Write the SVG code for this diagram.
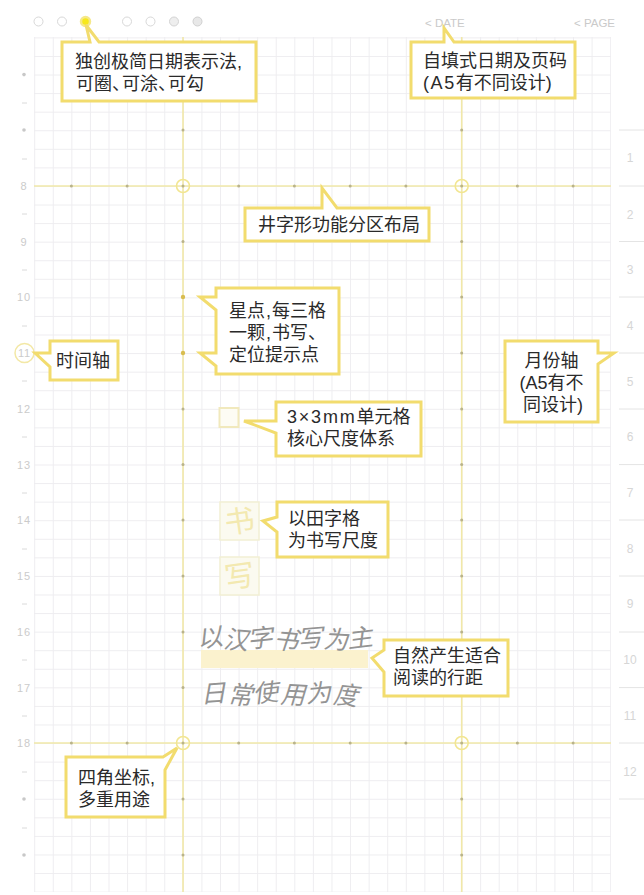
<svg xmlns="http://www.w3.org/2000/svg" width="644" height="895" viewBox="0 0 644 895">
<defs>
<style>
text{font-family:"Liberation Sans","Noto Sans CJK SC",sans-serif}
.g{stroke:#eeedf0;stroke-width:1;fill:none}
.ax{stroke:#f1e8a8;stroke-width:1.6;fill:none}
.co{fill:#fff;stroke:#f2dc6e;stroke-width:3;stroke-linejoin:miter}
.t{font-size:18px;fill:#2a2a2a}
.n{font-size:11px;fill:#cbcbcb;text-anchor:middle;letter-spacing:.8px}
.m{font-size:12px;fill:#d6d6d6;text-anchor:middle}
.d{fill:#b9b38a}
.s{fill:#c8c8c8}
.o{fill:none;stroke:#d8d8d8;stroke-width:1}
.h{font-size:25px;fill:#949494}
</style>
<pattern id="gridV" x="34.2" y="0" width="18.58" height="895" patternUnits="userSpaceOnUse"><line x1="0.5" y1="0" x2="0.5" y2="895" class="g"/></pattern>
<pattern id="gridH" x="0" y="37.4" width="644" height="18.57" patternUnits="userSpaceOnUse"><line x1="0" y1="0.5" x2="644" y2="0.5" class="g"/></pattern>
</defs>
<rect width="644" height="895" fill="#fff"/>
<g id="grid">
<rect x="34" y="37" width="577" height="855" fill="url(#gridV)"/>
<rect x="34" y="37" width="577" height="855" fill="url(#gridH)"/>
</g>
<g id="axes">
<line x1="34" y1="186" x2="611" y2="186" class="ax"/>
<line x1="34" y1="743" x2="611" y2="743" class="ax"/>
<line x1="183" y1="37" x2="183" y2="892" class="ax"/>
<line x1="461.7" y1="37" x2="461.7" y2="892" class="ax"/>
<g class="d">
<circle cx="71.4" cy="186" r="1.5"/><circle cx="127.1" cy="186" r="1.5"/><circle cx="183" cy="186" r="1.5"/><circle cx="238.7" cy="186" r="1.5"/><circle cx="294.4" cy="186" r="1.5"/><circle cx="350.2" cy="186" r="1.5"/><circle cx="405.9" cy="186" r="1.5"/><circle cx="461.7" cy="186" r="1.5"/><circle cx="517.4" cy="186" r="1.5"/><circle cx="573.1" cy="186" r="1.5"/>
<circle cx="71.4" cy="743" r="1.5"/><circle cx="127.1" cy="743" r="1.5"/><circle cx="183" cy="743" r="1.5"/><circle cx="238.7" cy="743" r="1.5"/><circle cx="294.4" cy="743" r="1.5"/><circle cx="350.2" cy="743" r="1.5"/><circle cx="405.9" cy="743" r="1.5"/><circle cx="461.7" cy="743" r="1.5"/><circle cx="517.4" cy="743" r="1.5"/><circle cx="573.1" cy="743" r="1.5"/>
<circle cx="183" cy="130" r="1.5"/><circle cx="183" cy="241.5" r="1.5"/><circle cx="183" cy="297" r="2.2" fill="#d9bd50"/><circle cx="183" cy="353" r="2.2" fill="#d9bd50"/><circle cx="183" cy="409" r="1.5"/><circle cx="183" cy="464.6" r="1.5"/><circle cx="183" cy="520" r="1.5"/><circle cx="183" cy="576" r="1.5"/><circle cx="183" cy="632" r="1.5"/><circle cx="183" cy="687.6" r="1.5"/><circle cx="183" cy="799" r="1.5"/><circle cx="183" cy="855" r="1.5"/>
<circle cx="461.7" cy="130" r="1.5"/><circle cx="461.7" cy="241.5" r="1.5"/><circle cx="461.7" cy="297" r="1.5"/><circle cx="461.7" cy="353" r="1.5"/><circle cx="461.7" cy="409" r="1.5"/><circle cx="461.7" cy="464.6" r="1.5"/><circle cx="461.7" cy="520" r="1.5"/><circle cx="461.7" cy="576" r="1.5"/><circle cx="461.7" cy="632" r="1.5"/><circle cx="461.7" cy="687.6" r="1.5"/><circle cx="461.7" cy="799" r="1.5"/><circle cx="461.7" cy="855" r="1.5"/>
</g>
<g fill="none" stroke="#f2e692" stroke-width="1.6">
<circle cx="183" cy="186" r="6.5"/><circle cx="461.7" cy="186" r="6.5"/><circle cx="183" cy="743" r="6.5"/><circle cx="461.7" cy="743" r="6.5"/>
</g>
</g>
<g id="date-dots">
<circle cx="38.5" cy="21.5" r="4.5" class="o"/><circle cx="62" cy="21.5" r="4.5" class="o"/>
<circle cx="85.5" cy="21.5" r="4.5" fill="#f7e81a" stroke="#f5e88a" stroke-width="2.5"/>
<circle cx="127" cy="21.5" r="4.5" class="o"/><circle cx="150.5" cy="21.5" r="4.5" class="o"/>
<circle cx="174" cy="21.5" r="4.5" fill="#eeeeee" stroke="#d4d4d4"/><circle cx="197.5" cy="21.5" r="4.5" fill="#e8e8e8" stroke="#d0d0d0"/>
<text x="425" y="27" font-size="11.5" fill="#cacaca">&lt; DATE</text>
<text x="574" y="27" font-size="11.5" fill="#cacaca">&lt; PAGE</text>
</g>
<g id="time-axis">
<circle cx="24" cy="74.6" r="1.8" class="s"/><circle cx="24" cy="130" r="1.8" class="s"/>
<circle cx="24" cy="799" r="1.8" class="s"/><circle cx="24" cy="855" r="1.8" class="s"/>
<g stroke="#dadada" stroke-width="1">
<line x1="22" y1="103" x2="27" y2="103"/><line x1="22" y1="159" x2="27" y2="159"/><line x1="22" y1="214" x2="27" y2="214"/><line x1="22" y1="270" x2="27" y2="270"/><line x1="22" y1="326" x2="27" y2="326"/><line x1="22" y1="381" x2="27" y2="381"/><line x1="22" y1="437" x2="27" y2="437"/><line x1="22" y1="493" x2="27" y2="493"/><line x1="22" y1="549" x2="27" y2="549"/><line x1="22" y1="604" x2="27" y2="604"/><line x1="22" y1="660" x2="27" y2="660"/><line x1="22" y1="716" x2="27" y2="716"/><line x1="22" y1="772" x2="27" y2="772"/><line x1="22" y1="828" x2="27" y2="828"/>
</g>
<text x="24" y="190" class="n">8</text><text x="24" y="245.5" class="n">9</text><text x="24" y="301" class="n">10</text>
<circle cx="24.5" cy="353" r="9.5" fill="#fff" stroke="#f3e8a6" stroke-width="1.5"/>
<text x="24.5" y="357" class="n">11</text>
<text x="24" y="413" class="n">12</text><text x="24" y="468.6" class="n">13</text><text x="24" y="524" class="n">14</text><text x="24" y="580" class="n">15</text><text x="24" y="636" class="n">16</text><text x="24" y="691.6" class="n">17</text><text x="24" y="747" class="n">18</text>
</g>
<g id="month-axis">
<g stroke="#e4e4e4" stroke-width="1">
<line x1="619" y1="130" x2="644" y2="130"/><line x1="619" y1="186" x2="644" y2="186"/><line x1="619" y1="241.5" x2="644" y2="241.5"/><line x1="619" y1="297" x2="644" y2="297"/><line x1="619" y1="353" x2="644" y2="353"/><line x1="619" y1="409" x2="644" y2="409"/><line x1="619" y1="464.6" x2="644" y2="464.6"/><line x1="619" y1="520" x2="644" y2="520"/><line x1="619" y1="576" x2="644" y2="576"/><line x1="619" y1="632" x2="644" y2="632"/><line x1="619" y1="687.6" x2="644" y2="687.6"/><line x1="619" y1="743" x2="644" y2="743"/><line x1="619" y1="799" x2="644" y2="799"/>
</g>
<text x="630" y="162" class="m">1</text><text x="630" y="219" class="m">2</text><text x="630" y="274" class="m">3</text><text x="630" y="330" class="m">4</text><text x="630" y="386" class="m">5</text><text x="630" y="441" class="m">6</text><text x="630" y="497" class="m">7</text><text x="630" y="553" class="m">8</text><text x="630" y="608" class="m">9</text><text x="630" y="664" class="m">10</text><text x="630" y="720" class="m">11</text><text x="630" y="776" class="m">12</text>
</g>
<g id="writing-samples">
<rect x="219.5" y="408" width="19" height="19" fill="#fdfcf4" stroke="#f1e9bd" stroke-width="2"/>
<rect x="220" y="502" width="39" height="38" fill="#fbfaf0" stroke="#f2efd4" stroke-width="1.5"/>
<rect x="220" y="557" width="39" height="38" fill="#fbfaf0" stroke="#f2efd4" stroke-width="1.5"/>
<text x="239.5" y="532" font-size="30" fill="#f3e9b0" text-anchor="middle" transform="rotate(-8 239.5 521)">书</text>
<text x="239.5" y="587" font-size="30" fill="#f3e9b0" text-anchor="middle" transform="rotate(-8 239.5 576)">写</text>
<rect x="201" y="650" width="167" height="18" fill="#fbf2ce"/>
<text class="h" transform="translate(198 648) skewX(-14)" rotate="-8 4 -6 5 -5 3 -7">以汉字书写为主</text>
<text class="h" letter-spacing="1.3" transform="translate(201 703) skewX(-14)" rotate="-4 5 -7 3 -5 6">日常使用为度</text>
</g>
<g id="connectors"></g>
<g id="node-dates"><path class="co" d="M62 42H90L86 25L99 42H256V101H62Z"/><text class="t" x="75" y="68">独创极简日期表示法,</text><text class="t" x="76 94 112 122 140 158 168 186" y="90">可圈、可涂、可勾</text></g>
<g id="node-page"><path class="co" d="M411 42H444V28L454 42H575V98H411Z"/><text class="t" x="423" y="67">自填式日期及页码<tspan x="423" y="89"><tspan letter-spacing="1.6">(A5</tspan>有不同设计)</tspan></text></g>
<g id="node-layout"><path class="co" d="M245 208H322V188L337 208H429V241H245Z"/><text class="t" x="258" y="231">井字形功能分区布局</text></g>
<g id="node-star"><path class="co" d="M216 288H339V374H216V366L200 353H216V310L200 297H216Z"/><text class="t" x="229" y="317">星点<tspan dx="1">,</tspan><tspan dx="1">每三格</tspan><tspan x="229" y="339">一颗<tspan dx="1">,</tspan><tspan dx="1">书写、</tspan></tspan><tspan x="229" y="361">定位提示点</tspan></text></g>
<g id="node-time"><path class="co" d="M50 341H118V380H50V367L35 353H50Z"/><text class="t" x="56" y="367">时间轴</text></g>
<g id="node-cell"><path class="co" d="M276 402H421V456H276V433L244 421H276Z"/><text class="t" x="287" y="423"><tspan letter-spacing="1.8">3×3mm</tspan>单元格<tspan x="287" y="445">核心尺度体系</tspan></text></g>
<g id="node-tianzi"><path class="co" d="M277 502H388V557H277V532L263 521L277 517Z"/><text class="t" x="288" y="525">以田字格<tspan x="288" y="547">为书写尺度</tspan></text></g>
<g id="node-spacing"><path class="co" d="M384 640H508V696H384V672L372 658L384 650Z"/><text class="t" x="393" y="662">自然产生适合<tspan x="393" y="684">阅读的行距</tspan></text></g>
<g id="node-corner"><path class="co" d="M66 757H163L177 748L165 770V817H66Z"/><text class="t" x="78" y="784">四角坐标,<tspan x="78" y="806">多重用途</tspan></text></g>
<g id="node-month"><path class="co" d="M505 341H598V353H614L598 364V422H505Z"/><text class="t" x="551.5" y="367" text-anchor="middle">月份轴<tspan x="551.5" y="389">(A5有不</tspan><tspan x="553" y="411">同设计)</tspan></text></g>
</svg>
